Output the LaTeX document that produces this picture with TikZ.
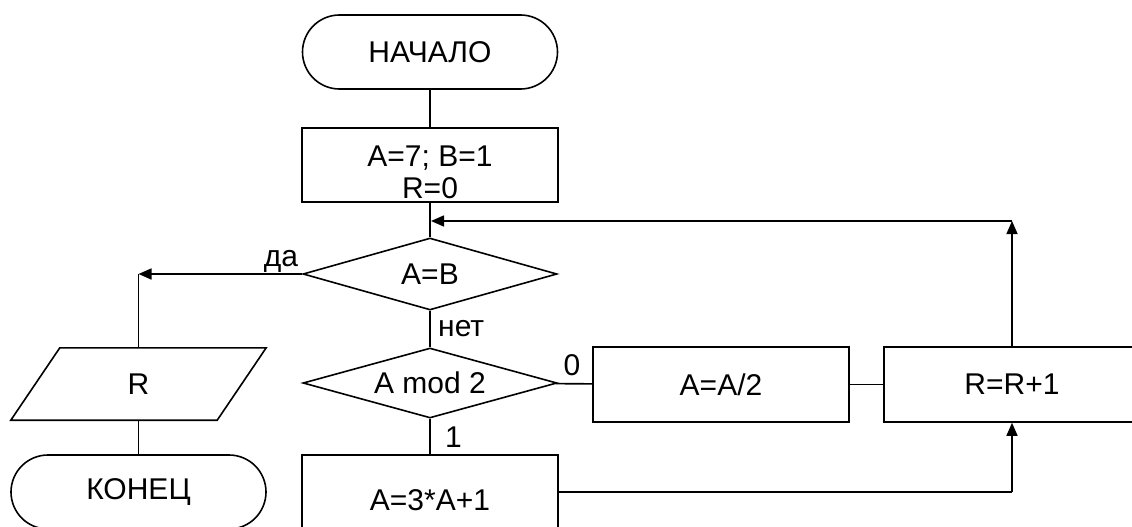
\documentclass[tikz,border=0pt]{standalone}
\usepackage{fontspec}
\setmainfont{Liberation Sans}
\usetikzlibrary{shapes.geometric,arrows.meta}
\begin{document}
\begin{tikzpicture}[x=1pt,y=-1pt,
  every node/.style={font=\fontsize{30}{32}\selectfont},
  ln/.style={line width=1.6pt},
  arr/.style={ln,-{Triangle[length=13pt,width=11pt]}},
  term/.style={draw,ln,rectangle,rounded corners=37pt,minimum width=255pt,minimum height=74pt,inner sep=0pt},
  proc/.style={draw,ln,rectangle,minimum width=256pt,minimum height=75pt,inner sep=0pt,align=center},
  dec/.style={draw,ln,diamond,shape aspect=3.5,minimum width=254pt,minimum height=72pt,inner sep=0pt},
  lbl/.style={inner sep=0pt,anchor=base}]
\useasboundingbox (0,0) rectangle (1132,527);
\clip (0,0) rectangle (1132,527);
% nodes
\node[term] (start) at (430,52) {НАЧАЛО};
\node[proc, minimum height=74pt] (init) at (430,165) {\rule{0pt}{36pt}A=7; B=1\\R=0};
\node[dec] (dab) at (430,274) {A=B};
\node[dec, minimum height=70pt] (dmod) at (430,383) {A mod 2};
\node[proc] (half) at (721,384.5) {A=A/2};
\node[proc] (incr) at (1012,384.5) {R=R+1};
\node[proc, minimum height=74pt] (triple) at (430,492) {\rule{0pt}{37pt}A=3*A+1};
\node[inner sep=0pt, minimum width=206pt, minimum height=72pt] (outR) at (138.5,384) {R};
\draw[ln] ([xshift=24.5pt]outR.north west) -- ([xshift=24.5pt]outR.north east)
  -- ([xshift=-24.5pt]outR.south east) -- ([xshift=-24.5pt]outR.south west) -- cycle;
\node[term] (end) at (138.5,492) {КОНЕЦ};
% free ends
\coordinate (yes) at (138.5,274);
\coordinate (up) at (1012,221);
\coordinate (back) at (431,221);
\coordinate (low) at (1012,492);
% connectors
\draw[ln] (start) -- (init);
\draw[ln] (init) -- (dab);
\draw[arr] (dab.west) -- (yes);
\draw[ln] (yes) -- (outR.north);
\draw[ln] (outR.south) -- (end.north);
\draw[ln] (dab) -- (dmod);
\draw[ln] (dmod) -- (half);
\draw[ln] (dmod) -- (triple);
\draw[ln] (half) -- (incr);
\draw[arr] (incr) -- (up);
\draw[arr] (up) -- (back);
\draw[ln] (triple.east) -- (low);
\draw[arr] (low) -- (incr.south);
% labels
\node[lbl] (lyes) at (281,266) {да};
\node[lbl, anchor=base west] (lno) at (438,336) {нет};
\node[lbl] (lzero) at (572,375) {0};
\node[lbl, anchor=base west] (lone) at (445,447) {1};
\end{tikzpicture}
\end{document}
